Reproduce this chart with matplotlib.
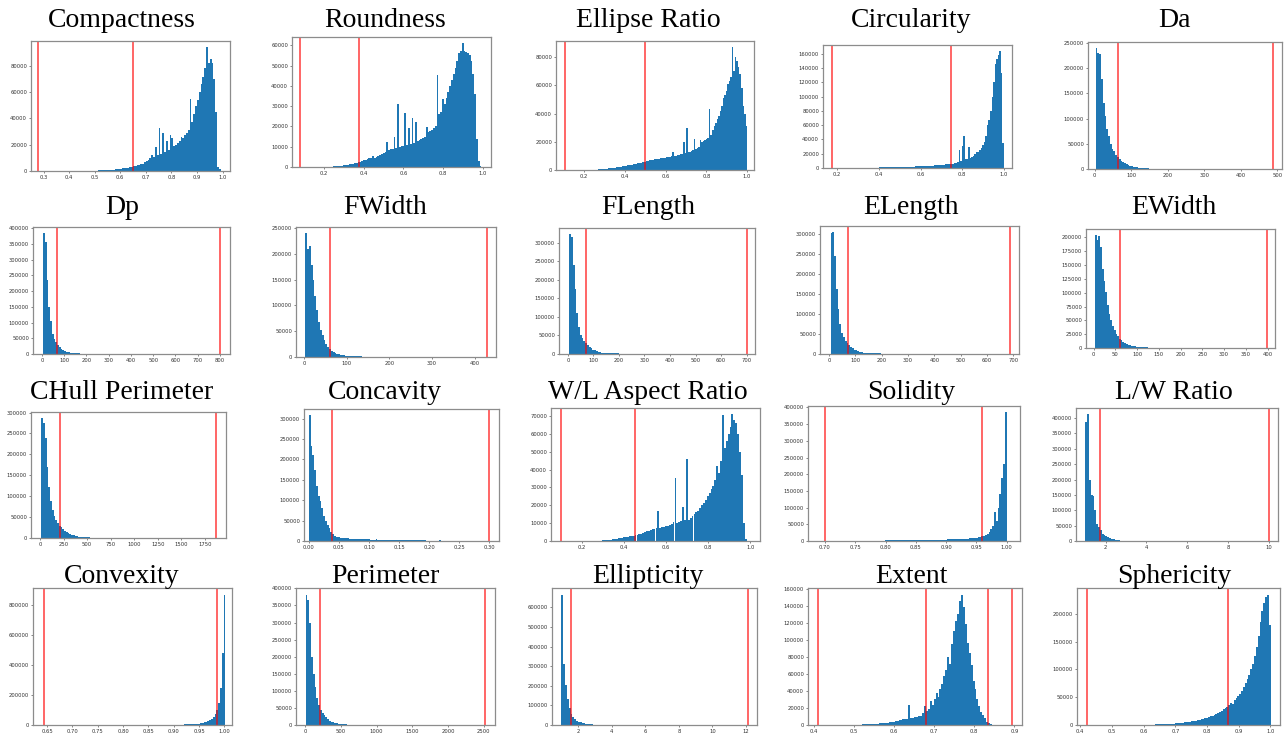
import numpy as np
import matplotlib
matplotlib.use("Agg")
import matplotlib.pyplot as plt
from matplotlib.ticker import MultipleLocator

# ---------------- data (bin counts) ----------------
titles = ["Compactness", "Roundness", "Ellipse Ratio", "Circularity", "Da",
          "Dp", "FWidth", "FLength", "ELength", "EWidth",
          "CHull Perimeter", "Concavity", "W/L Aspect Ratio", "Solidity", "L/W Ratio",
          "Convexity", "Perimeter", "Ellipticity", "Extent", "Sphericity"]

# (first bin edge, bin width)
compactness_bins = (0.5, 0.00714)
compactness_counts = [300, 350, 400, 500, 550, 600, 700, 800, 900, 1000, 1100, 1200, 1400, 1500,
                      1700, 1900, 2100, 2300, 2600, 2900, 3200, 3500, 3800, 4200, 4600, 5000, 5600, 6500,
                      7500, 8500, 10000, 12000, 10500, 18000, 12500, 33000, 13000, 29000, 14500, 23000,
                      16000, 27000, 25000, 19000, 20000, 21000, 23000, 26000, 25000, 27000, 29000, 31000,
                      55000, 37000, 43000, 49000, 54000, 60000, 66000, 71000, 78000, 94000, 82000, 85000,
                      82000, 70000, 45000, 3000, 1500]
compactness_lines = [0.28, 0.65]

roundness_bins = (0.236, 0.009)
roundness_counts = [200, 250, 300, 400, 500, 600, 700, 800, 1000, 1100,
                    1300, 1500, 1700, 1900, 2100, 2400, 2700, 3000, 3300, 3600,
                    3900, 4200, 4500, 5200, 4600, 5000, 5400, 5800, 6300, 7000,
                    7500, 12500, 8200, 8800, 9000, 15000, 9400, 31000, 9800, 10200,
                    10500, 26500, 11000, 19000, 11500, 24000, 12000, 22000, 13000, 13500,
                    14000, 14500, 15000, 19500, 17000, 17500, 18000, 19000, 20000, 45500,
                    26000, 27000, 33500, 31000, 34000, 37000, 40000, 43000, 46000, 49000,
                    52000, 56000, 57000, 61000, 57000, 56500, 56000, 55000, 52000, 46000,
                    36000, 14000, 3000, 500]
roundness_lines = [0.083, 0.376]

ellipse_bins = (0.25, 0.0075)
ellipse_counts = [200, 300, 400, 500, 600, 700, 800, 900, 1000, 1100, 1200, 1300, 1500, 1600, 1800,
                  2000, 2200, 2400, 2600, 2900, 3000, 3200, 3400, 3600, 3800, 4000, 4200, 4500, 4800,
                  5100, 5300, 5500, 5800, 6000, 6300, 6500, 6800, 7000, 7200, 7500, 7700, 7900, 8100,
                  8300, 8400, 8500, 8700, 8900, 9100, 9300, 9600, 13000, 10000, 10200, 10500, 10800,
                  11000, 11500, 20000, 12000, 29500, 12500, 13000, 13500, 14000, 22000, 15000, 15500,
                  16500, 21500, 20000, 20500, 21000, 22000, 23000, 43000, 25000, 28000, 31000, 33000,
                  36000, 38000, 42000, 45000, 51000, 53000, 56000, 61000, 63000, 66000, 87000, 70000,
                  80000, 77000, 73000, 68000, 58000, 45000, 40000, 31000]
ellipse_lines = [0.105, 0.50]

circularity_bins = (0.4, 0.0075)
circularity_counts = [900, 900, 950, 1000, 1000, 1050, 1100, 1100, 1150, 1200, 1250, 1300, 1350, 1400,
                      1450, 1500, 1550, 1600, 1700, 1800, 1900, 2000, 2100, 2200, 2300, 2400, 2500, 2600,
                      2700, 2800, 3000, 3100, 3200, 3400, 3500, 3700, 3900, 4100, 4300, 4500, 4700, 4900,
                      5100, 5300, 5500, 5700, 6000, 6300, 6800, 7500, 8000, 25000, 10000, 31000, 45000,
                      12000, 13000, 29000, 13500, 15000, 17000, 20000, 22000, 23000, 25000, 28000, 32000,
                      37000, 45000, 60000, 67000, 80000, 100000, 120000, 145000, 152000, 158000, 164000,
                      133000, 35000]
circularity_lines = [0.178, 0.745]

da_bins = (3, 4.87)
da_counts = [240000, 230000, 229000, 178000, 130000, 105000, 80000, 65000, 50000, 40000, 35000, 28000,
             24000, 20000, 16000, 13000, 11000, 9000, 7500, 6000, 5000, 4200, 3500, 3000, 2500, 2100,
             1800, 1500, 1300, 1100, 900, 700, 500, 400, 300, 200, 150, 100]
da_lines = [65, 487]

dp_bins = (5, 7.95)
dp_counts = [385000, 358000, 237000, 150000, 105000, 65000, 47000, 38000, 30000, 22000, 16000, 12000,
             9000, 7000, 5500, 4500, 3500, 3000, 2500, 2000, 1800, 1500, 1000, 500]
dp_lines = [69, 800]

fwidth_bins = (3, 4.27)
fwidth_counts = [240000, 210000, 215000, 178000, 150000, 118000, 92000, 68000, 52000, 42000, 33000,
                 26000, 20000, 16000, 12500, 10000, 8000, 6500, 5500, 4500, 3800, 3200, 2700, 2300,
                 2000, 1700, 1500, 1300, 1200, 1100, 1000, 900, 800]
fwidth_lines = [60, 428]

flength_bins = (5, 6.97)
flength_counts = [323000, 316000, 240000, 175000, 110000, 72000, 50000, 42000, 35000, 30000, 25000,
                  20000, 16000, 12000, 9500, 7500, 6000, 5000, 4000, 3500, 3000, 2500, 2200, 2000,
                  1800, 1600, 1500, 1400]
flength_lines = [72, 702]

elength_bins = (5, 6.83)
elength_counts = [303000, 305000, 245000, 163000, 113000, 75000, 52000, 42000, 33000, 27000, 22000,
                  18000, 14000, 11000, 9000, 7000, 5500, 4500, 3500, 3000, 2500, 2200, 2000, 1800,
                  1600, 1500, 1400, 1300, 1200]
elength_lines = [72, 688]

ewidth_bins = (3, 3.95)
ewidth_counts = [205000, 196000, 203000, 183000, 142000, 122000, 102000, 78000, 62000, 50000, 40000,
                 32000, 26000, 21000, 17000, 14000, 11000, 9000, 7500, 6000, 5000, 4200, 3600, 3000,
                 2500, 2100, 1800, 1500, 1300, 1100, 1000, 900, 800, 700, 600, 500]
ewidth_lines = [61, 398]

chull_bins = (15, 18.5)
chull_counts = [287000, 275000, 240000, 170000, 121000, 88000, 67000, 52000, 42000, 35000, 29000,
                26000, 21000, 17000, 13500, 11000, 9000, 7500, 6000, 5000, 4200, 3500, 3000, 2600,
                2200, 1900, 1700, 1500]
chull_lines = [215, 1865]

concavity_bins = (0.0, 0.003)
concavity_counts = [308000, 232000, 210000, 175000, 135000, 110000, 98000, 80000, 62000, 50000, 40000,
                    33000, 22000, 16000, 12000, 10500, 9500, 8500, 8000, 7500, 7000, 6500, 6000, 5800,
                    5500, 5200, 5000, 4800, 4600, 4400, 4200, 4000, 3800, 3700, 3600, 3500, 3400, 4500,
                    3200, 3000, 2900, 2800, 2700, 2600, 2500, 3500, 2400, 2300, 2200, 2100, 2000, 1900,
                    1800, 1800, 1700, 1700, 1600, 1600, 1500, 1500, 2500, 1400, 1400, 1300, 1300, 1200,
                    1200, 1100, 1100, 1000, 1000, 900, 2000, 800]
concavity_lines = [0.038, 0.30]

wl_bins = (0.298, 0.009)
wl_counts = [400, 500, 600, 700, 800, 1000, 1100, 1300, 1500, 1700, 1900,
             2000, 2200, 2400, 2600, 2800, 3000, 3200, 3500, 3800, 4200, 4600,
             5000, 5400, 5800, 6200, 6500, 6800, 7100, 17000,
             7500, 7800, 8000, 8300, 8600, 9000, 9300, 10500, 35500, 10000,
             10500, 11000, 19000, 11500, 46000, 12000, 13000, 14000, 15000, 16000,
             17000, 18500, 20000, 21500, 23000, 25000, 27000, 29000, 31000, 34000,
             42000, 38000, 45000, 70500, 52000, 56000, 60000, 64000, 71000, 68000,
             66000, 60000, 50000, 37000, 10000, 1000]
wl_lines = [0.10, 0.455]

solidity_bins = (0.799, 0.003)
solidity_counts = [2500, 2500, 2500, 2500, 2500, 2600, 2600, 2600, 2600, 2700,
                   2700, 2700, 2800, 2800, 2800, 2900, 2900, 3000, 3000, 3100,
                   3100, 3200, 3200, 3300, 3400, 3500, 3600, 3700, 3800, 3900,
                   4000, 4100, 4200, 4400, 4600, 4800, 5000, 5200, 5400, 5600,
                   5800, 6000, 6200, 6500, 6800, 7000, 7500, 8000, 8500, 9000,
                   10000, 11000, 12000, 13500, 15000, 18000, 22000, 28000, 35000, 45000,
                   88000, 60000, 100000, 140000, 190000, 230000, 385000]
solidity_lines = [0.70, 0.96]

lw_bins = (1.0, 0.09)
lw_counts = [388000, 412000, 200000, 150000, 145000, 100000, 55000, 45000, 35000, 22000, 18000,
             15000, 12000, 9000, 7000, 5500, 4500, 3500, 2500, 1000]
lw_lines = [1.75, 10.0]

convexity_bins = (0.87, 0.00357)
convexity_counts = [1000, 1000, 1100, 1200, 1300, 1400, 1500, 1700, 1900, 2100,
                    2300, 2600, 2900, 3200, 3600, 4000, 4500, 5000, 5700, 6500,
                    7500, 8500, 10000, 12000, 14000, 17000, 20000, 25000, 32000, 42000,
                    55000, 75000, 100000, 150000, 250000, 480000, 870000]
convexity_lines = [0.643, 0.985]

perimeter_bins = (5, 25.15)
perimeter_counts = [382000, 365000, 300000, 200000, 150000, 110000, 80000, 60000, 45000, 35000,
                    28000, 22000, 17000, 13000, 10000, 8000, 6500, 5000, 4000, 3200, 2500, 2000,
                    1500, 1200, 1000]
perimeter_lines = [200, 2520]

ellipticity_bins = (1.0, 0.111)
ellipticity_counts = [665000, 310000, 205000, 135000, 85000, 55000, 40000, 30000, 22000, 17000, 13000,
                      10000, 8000, 6500, 5000, 4000, 3000, 2500, 2000, 1500, 1200, 1000, 800]
ellipticity_lines = [1.6, 12.1]

extent_bins = (0.50, 0.00485)
extent_counts = [400, 450, 500, 550, 600, 700, 800, 900, 1000, 1100,
                 1200, 1400, 1600, 1800, 2000, 2300, 2600, 2900, 3200, 3600,
                 4000, 4500, 5000, 5500, 6000, 6500, 7000, 7500, 23000,
                 8000, 8500, 9000, 9500, 10000, 11000,
                 14000, 22000, 17000, 19000, 28000, 24000,
                 30000, 38000, 33000, 42000, 48000, 58000,
                 65000, 80000, 72000, 95000, 110000, 122000,
                 130000, 145000, 153000, 138000, 118000, 96000,
                 85000, 70000, 52000, 42000, 30000, 22000,
                 15000, 12000, 8000, 4000, 2000, 1000, 500, 300, 200]
extent_lines = [0.41, 0.68, 0.835, 0.895]

sphericity_bins = (0.60, 0.0058)
sphericity_counts = [500, 550, 600, 700, 800, 900, 1000, 1100, 1200, 1300,
                     1400, 1500, 1700, 1900, 2100, 2300, 2600, 2900, 3200, 3500,
                     3800, 4200, 4600, 5000, 5500, 6000, 6600, 7200, 7800, 8500,
                     9200, 10000, 11000, 12000, 13000, 14000, 15500, 17000, 18500, 20000,
                     22000, 24000, 26000, 28000, 30000, 33000, 36000, 40000, 37000, 45000,
                     48000, 52000, 56000, 62000, 68000, 75000, 82000, 90000, 100000, 110000,
                     125000, 140000, 160000, 185000, 205000, 220000, 230000, 235000, 180000]
sphericity_lines = [0.42, 0.865]

# ---------------- layout ----------------
W, H = 1287, 738
bins_all = [compactness_bins, roundness_bins, ellipse_bins, circularity_bins, da_bins,
            dp_bins, fwidth_bins, flength_bins, elength_bins, ewidth_bins,
            chull_bins, concavity_bins, wl_bins, solidity_bins, lw_bins,
            convexity_bins, perimeter_bins, ellipticity_bins, extent_bins, sphericity_bins]
counts_all = [compactness_counts, roundness_counts, ellipse_counts, circularity_counts, da_counts,
              dp_counts, fwidth_counts, flength_counts, elength_counts, ewidth_counts,
              chull_counts, concavity_counts, wl_counts, solidity_counts, lw_counts,
              convexity_counts, perimeter_counts, ellipticity_counts, extent_counts, sphericity_counts]
lines_all = [compactness_lines, roundness_lines, ellipse_lines, circularity_lines, da_lines,
             dp_lines, fwidth_lines, flength_lines, elength_lines, ewidth_lines,
             chull_lines, concavity_lines, wl_lines, solidity_lines, lw_lines,
             convexity_lines, perimeter_lines, ellipticity_lines, extent_lines, sphericity_lines]

# axes frame rectangles in pixels: left, top, right, bottom
rects = [(31, 41, 230, 171), (292, 37, 491, 167), (556, 41, 754, 170), (823, 45, 1012, 168), (1088, 42, 1282, 169),
         (33, 227, 230, 354), (296, 227, 496, 357), (559, 228, 755, 354), (820, 226, 1019, 354), (1086, 229, 1275, 348),
         (31, 412, 226, 538), (304, 409, 499, 541), (551, 408, 760, 541), (808, 406, 1020, 541), (1076, 408, 1278, 541),
         (33, 588, 232, 725), (296, 588, 495, 725), (552, 588, 757, 725), (808, 588, 1022, 725), (1077, 588, 1280, 725)]
xlims = [(0.251, 1.029), (0.041, 1.04), (0.061, 1.034), (0.133, 1.038), (-18, 513),
         (-40, 845), (-19, 450), (-35, 733), (-35, 722), (-17.6, 417),
         (-95, 1973), (-0.008, 0.316), (0.055, 1.045), (0.672, 1.022), (0.55, 10.45),
         (0.622, 1.015), (-130, 2660), (0.45, 12.65), (0.386, 0.919), (0.39, 1.03)]
xsteps = [0.1, 0.2, 0.2, 0.2, 100, 100, 100, 100, 100, 50,
          250, 0.05, 0.2, 0.05, 2, 0.05, 500, 2, 0.1, 0.1]
ysteps = [20000, 10000, 20000, 20000, 50000, 50000, 50000, 50000, 50000, 25000,
          50000, 50000, 10000, 50000, 50000, 200000, 50000, 100000, 20000, 50000]
title_x = [122, 385, 648, 911, 1174]
title_y = [27, 214, 399, 583]

fig = plt.figure(figsize=(W / 100, H / 100), dpi=100)
fig.patch.set_facecolor("white")

for i in range(20):
    l, t, r, b = rects[i]
    ax = fig.add_axes([l / W, 1 - b / H, (r - l) / W, (b - t) / H])
    counts = np.asarray(counts_all[i], dtype=float)
    start, width = bins_all[i]
    edges = start + width * np.arange(len(counts) + 1)
    ax.hist(edges[:-1] + width / 2, bins=edges, weights=counts, color="#1f77b4")
    for v in lines_all[i]:
        ax.axvline(v, color="red", alpha=0.7, lw=1.2)
    ax.set_xlim(*xlims[i])
    ax.set_ylim(0, counts.max() * 1.05)
    ax.xaxis.set_major_locator(MultipleLocator(xsteps[i]))
    ax.yaxis.set_major_locator(MultipleLocator(ysteps[i]))
    ax.tick_params(labelsize=3.8, labelcolor="#333333", length=1.6, width=0.5,
                   color="#555555", pad=1.2)
    for sp in ax.spines.values():
        sp.set_color("#8c8c8c")
        sp.set_linewidth(0.9)
    row, col = divmod(i, 5)
    fig.text(title_x[col] / W, 1 - title_y[row] / H, titles[i], ha="center", va="baseline",
             fontsize=20, family=["Liberation Serif", "DejaVu Serif"])

fig.savefig("out.png", dpi=100, facecolor="white")
